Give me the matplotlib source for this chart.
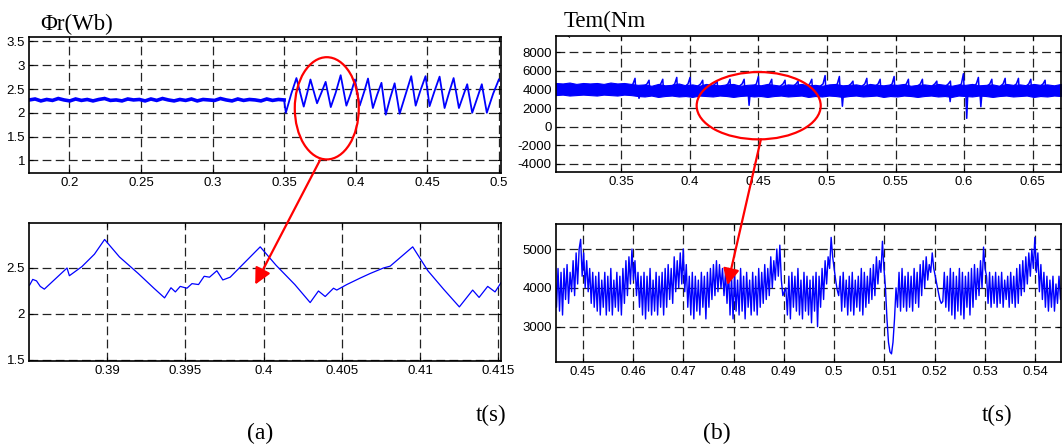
import numpy as np
import matplotlib
matplotlib.use("Agg")
import matplotlib.pyplot as plt
from matplotlib.patches import Ellipse, ConnectionPatch
from matplotlib.ticker import FuncFormatter

# ---------------- data ----------------
# (a) top: rotor flux, steady part 0.172-0.35 s
flux_flat_t0, flux_flat_t1 = 0.172, 0.350
flux_flat = [2.27, 2.29, 2.25, 2.28, 2.26, 2.30, 2.27, 2.25, 2.29, 2.26, 2.28, 2.25,
             2.28, 2.30, 2.26, 2.27, 2.25, 2.29, 2.27, 2.28, 2.25, 2.29, 2.26, 2.30,
             2.27, 2.25, 2.28, 2.26, 2.29, 2.25, 2.28, 2.27, 2.26, 2.30, 2.27, 2.25,
             2.29, 2.26, 2.28, 2.27, 2.25, 2.29, 2.26, 2.28, 2.27]
# (a) top: oscillating part after 0.35 s
flux_saw_t = [0.3500, 0.3512, 0.3550, 0.3586, 0.3637, 0.3660, 0.3684, 0.3730, 0.3760,
              0.3790, 0.3826, 0.3860, 0.3895, 0.3935, 0.3965, 0.3995, 0.4028, 0.4060,
              0.4086, 0.4120, 0.4150, 0.4180, 0.4210, 0.4240, 0.4272, 0.4307, 0.4350,
              0.4388, 0.4419, 0.4450, 0.4488, 0.4516, 0.4550, 0.4586, 0.4621, 0.4650,
              0.4684, 0.4721, 0.4750, 0.4779, 0.4814, 0.4850, 0.4881, 0.4916, 0.4960,
              0.5000]
flux_saw = [2.27, 2.00, 2.40, 2.73, 2.13, 2.40, 2.70, 2.20, 2.42, 2.65, 2.12, 2.42,
            2.79, 2.15, 2.40, 2.70, 2.15, 2.45, 2.72, 2.10, 2.38, 2.63, 1.96, 2.30,
            2.62, 1.98, 2.40, 2.77, 2.15, 2.45, 2.77, 2.14, 2.45, 2.76, 2.10, 2.40,
            2.73, 2.10, 2.35, 2.60, 2.00, 2.32, 2.60, 2.00, 2.40, 2.70]

# (a) bottom: zoom of rotor flux
fz_t = [0.38506, 0.38526, 0.38550, 0.38574, 0.38600, 0.38745, 0.38760, 0.38840,
        0.38920, 0.38985, 0.39080, 0.39200, 0.39300, 0.39368, 0.39409, 0.39437,
        0.39468, 0.39511, 0.39543, 0.39585, 0.39621, 0.39655, 0.39702, 0.39740,
        0.39787, 0.39880, 0.39979, 0.40080, 0.40200, 0.40298, 0.40351, 0.40394,
        0.40447, 0.40468, 0.40532, 0.40617, 0.40681, 0.40766, 0.40809, 0.40953,
        0.41050, 0.41150, 0.41251, 0.41336, 0.41377, 0.41432, 0.41479, 0.41517]
fz = [2.314, 2.376, 2.36, 2.30, 2.27, 2.50, 2.416, 2.515, 2.65, 2.81, 2.62, 2.44,
      2.28, 2.175, 2.285, 2.24, 2.30, 2.28, 2.33, 2.32, 2.41, 2.40, 2.47, 2.37,
      2.40, 2.56, 2.73, 2.53, 2.32, 2.124, 2.25, 2.19, 2.28, 2.26, 2.32, 2.39,
      2.44, 2.50, 2.52, 2.73, 2.47, 2.27, 2.077, 2.26, 2.18, 2.30, 2.24, 2.34]

# (b) top: electromagnetic torque, noise band envelope
tq_band_t0, tq_band_t1 = 0.3025, 0.6705
tq_upper = [4700, 4650, 4750, 4600, 4700, 4650, 4700, 4600, 4750, 4650, 4700, 4600,
            4500, 4550, 4400, 4600, 4450, 4500, 4650, 4450, 4550, 4400, 4600, 4500,
            4450, 4550, 4600, 4400, 4500, 4550, 4450, 4600, 4500, 4400, 4550, 4500,
            4600, 4450, 4500, 4400, 4550, 4600, 4450, 4500, 4550, 4400, 4600, 4500,
            4450, 4550, 4500, 4600, 4400, 4500, 4550, 4450, 4600, 4500, 4400, 4550,
            4500, 4600, 4450, 4500, 4550, 4400, 4600, 4500, 4550, 4450, 4600, 4500,
            4550, 4450, 4600]
tq_lower = [3400, 3450, 3350, 3400, 3450, 3400, 3350, 3450, 3400, 3350, 3450, 3400,
            3300, 3250, 3350, 3200, 3300, 3350, 3250, 3300, 3200, 3350, 3300, 3250,
            3350, 3300, 3200, 3300, 3350, 3250, 3300, 3200, 3300, 3350, 3250, 3300,
            3350, 3200, 3300, 3250, 3350, 3300, 3200, 3300, 3350, 3250, 3300, 3350,
            3200, 3300, 3250, 3350, 3300, 3200, 3300, 3350, 3250, 3300, 3200, 3350,
            3300, 3250, 3350, 3300, 3200, 3300, 3350, 3250, 3300, 3350, 3200, 3300,
            3250, 3350, 3300]
tq_spike_t = [0.3602, 0.3704, 0.3804, 0.3906, 0.4003, 0.4095, 0.4200, 0.4294, 0.4397,
              0.4501, 0.4598, 0.4695, 0.4790, 0.4890, 0.4987, 0.5091, 0.5190, 0.5291,
              0.5388, 0.5490, 0.5594, 0.5696, 0.5801, 0.5900, 0.5995, 0.6104, 0.6202,
              0.6299, 0.6396, 0.6486, 0.6590]
tq_spike = [5200, 5000, 5100, 5300, 5300, 5000, 4900, 5100, 5100, 5400, 5100, 5000,
            4900, 5100, 5500, 5400, 4900, 5200, 5100, 5400, 5100, 5100, 4900, 4900,
            5700, 5300, 5100, 5200, 5200, 5100, 5000]
tq_dip_t = [0.3631, 0.4433, 0.5113, 0.5898, 0.6019, 0.6122]
tq_dip = [3050, 2300, 2200, 2700, 900, 2150]

# (b) bottom: zoom of torque, sampled every 0.3 ms from 0.4445 s
tz_t0, tz_dt = 0.4445, 0.0003
tz = [4300, 3500, 4500, 3400, 4400, 3300, 4500, 3700, 4600, 3600, 4400, 3900, 4700, 3800,
      4900, 4100, 5000, 5250, 4300, 4900, 4000, 4700, 3900, 4500, 3600, 4400, 3500, 4300,
      3400, 4400, 3300, 4200, 3500, 4400, 3300, 4300, 3400, 4500, 3300, 4200, 3500, 4400,
      3400, 4300, 3300, 4500, 3600, 4700, 3800, 4800, 4100, 5000, 4200, 4700, 3800, 4400,
      3500, 4300, 3300, 4400, 3200, 4300, 3400, 4500, 3300, 4200, 3400, 4400, 3300, 4300,
      3500, 4400, 3300, 4500, 3500, 4600, 3700, 4500, 3600, 4800, 3900, 4700, 4000, 4900,
      4100, 5000, 3900, 4600, 3500, 4300, 3300, 4400, 3200, 4300, 3400, 4200, 3300, 4400,
      3500, 4300, 3200, 4400, 3500, 4500, 3700, 4600, 3800, 4700, 3900, 4600, 4000, 4500,
      3800, 4400, 3600, 4500, 3300, 4300, 3200, 4400, 3400, 4200, 3300, 4500, 3400, 4300,
      3200, 4400, 3500, 4200, 3300, 4400, 3400, 4300, 3300, 4500, 3500, 4400, 3600, 4600,
      3700, 4500, 3800, 4800, 4000, 4700, 4200, 5000, 4300, 5100, 4200, 3800, 3900, 4000,
      3300, 4300, 3200, 4400, 3500, 4300, 3400, 4500, 3300, 4200, 3200, 4400, 3400, 4300,
      3300, 4200, 3100, 4300, 3400, 4400, 3000, 4300, 3500, 4500, 3700, 4700, 4100, 4800,
      4500, 5300, 4800, 4500, 4200, 3950, 3800, 4300, 3400, 4400, 3500, 4200, 3300, 4300,
      3400, 4400, 3300, 4200, 3500, 4300, 3400, 4500, 3300, 4400, 3500, 4300, 3600, 4500,
      3700, 4600, 3800, 4800, 4100, 4700, 4400, 5200, 4500, 4000, 3200, 2600, 2350, 2300,
      2600, 3200, 4000, 3500, 4400, 3400, 4500, 3500, 4300, 3400, 4400, 3500, 4300, 3400,
      4500, 3600, 4400, 3500, 4600, 3800, 4700, 4000, 4800, 4200, 4600, 4400, 4900, 4500,
      4300, 4100, 3900, 3700, 3600, 3650, 4400, 3500, 4300, 3400, 4500, 3300, 4400, 3200,
      4300, 3400, 4500, 3300, 4400, 3200, 4300, 3500, 4400, 3300, 4500, 3500, 4600, 3700,
      4500, 3800, 4700, 4000, 5050, 4500, 4300, 3600, 4400, 3500, 4300, 3600, 4400, 3500,
      4300, 3600, 4400, 3500, 4200, 3700, 4300, 3500, 4400, 3600, 4300, 3500, 4500, 3600,
      4600, 3800, 4700, 3900, 4800, 4100, 4900, 4300, 5000, 4500, 5300, 4400, 4900, 3900,
      4600, 3700, 4400, 3500, 4300, 3400, 4200, 3500, 4300, 3400, 4100, 3600, 4300, 3700,
      4200, 3600, 4300]

# tick labels / axis settings
tl_xticks = [0.20, 0.25, 0.30, 0.35, 0.40, 0.45, 0.50]
tl_yticks = [1.0, 1.5, 2.0, 2.5, 3.0, 3.5]
tr_xticks = [0.35, 0.40, 0.45, 0.50, 0.55, 0.60, 0.65]
tr_yticks = [-4000, -2000, 0, 2000, 4000, 6000, 8000]
bl_xticks = [0.390, 0.395, 0.400, 0.405, 0.410, 0.415]
bl_yticks = [1.5, 2.0, 2.5]
br_xticks = [0.45, 0.46, 0.47, 0.48, 0.49, 0.50, 0.51, 0.52, 0.53, 0.54]
br_yticks = [3000, 4000, 5000]

# ---------------- figure ----------------
W, H = 1062, 446
fig = plt.figure(figsize=(W / 100, H / 100), dpi=100)
plt.rcParams['font.family'] = ['Liberation Sans', 'DejaVu Sans']

BLUE = '#0000ff'
RED = '#ff0000'


def box(l, t, r, b):
    return [l / W, 1 - b / H, (r - l) / W, (b - t) / H]


def style(ax, xt, yt, xl, yl):
    ax.set_xlim(*xl)
    ax.set_ylim(*yl)
    ax.set_xticks(xt)
    ax.set_yticks(yt)
    fmt = FuncFormatter(lambda v, p: '%g' % round(v, 6))
    ax.xaxis.set_major_formatter(fmt)
    ax.yaxis.set_major_formatter(fmt)
    ax.grid(True, color='#222222', linestyle=(0, (7, 3.5)), linewidth=0.9)
    ax.set_axisbelow(True)
    ax.tick_params(direction='in', length=3, width=0.8, labelsize=9.5, pad=3,
                   top=True, right=True)
    for s in ax.spines.values():
        s.set_linewidth(1.2)
        s.set_color('black')


ax_tl = fig.add_axes(box(29.3, 36.7, 501, 172.7))
ax_tr = fig.add_axes(box(556, 35.7, 1061, 172))
ax_bl = fig.add_axes(box(29.3, 223.3, 501, 360.7))
ax_br = fig.add_axes(box(556, 224.3, 1061, 361.7))

# top-left
t_flat = np.linspace(flux_flat_t0, flux_flat_t1, len(flux_flat))
ax_tl.plot(t_flat, flux_flat, color=BLUE, lw=2.6, solid_joinstyle='miter')
ax_tl.plot(flux_saw_t, flux_saw, color=BLUE, lw=1.3)
style(ax_tl, tl_xticks, tl_yticks, (0.172, 0.5015), (0.74, 3.6))

# top-right
t_band = np.linspace(tq_band_t0, tq_band_t1, len(tq_upper))
ax_tr.fill_between(t_band, tq_lower, tq_upper, color=BLUE, lw=0.8, edgecolor=BLUE)
sx, sy = [], []
for ts, pk in zip(tq_spike_t, tq_spike):
    sx += [ts - 0.004, ts - 0.0015, ts, ts + 0.0006, np.nan]
    sy += [4300, 4600, pk, 3800, np.nan]
for td, dp in zip(tq_dip_t, tq_dip):
    sx += [td - 0.0006, td, td + 0.0008, np.nan]
    sy += [3500, dp, 3600, np.nan]
ax_tr.plot(sx, sy, color=BLUE, lw=1.1)
style(ax_tr, tr_xticks, tr_yticks, (0.3026, 0.6706), (-4870, 9785))

# bottom-left
ax_bl.plot(fz_t, fz, color=BLUE, lw=0.9)
style(ax_bl, bl_xticks, bl_yticks, (0.38504, 0.41517), (1.492, 2.986))

# bottom-right
t_z = tz_t0 + tz_dt * np.arange(len(tz))
ax_br.plot(t_z, tz, color=BLUE, lw=1.0)
style(ax_br, br_xticks, br_yticks, (0.4447, 0.5451), (2098, 5637))

# red ellipses
ax_tl.add_patch(Ellipse((0.3798, 2.094), 0.0447, 2.15, fill=False,
                        edgecolor=RED, lw=1.6, zorder=5))
ax_tr.add_patch(Ellipse((0.4503, 2258), 0.0904, 7237, fill=False,
                        edgecolor=RED, lw=1.6, zorder=5))

# red arrows
for a0, p0, a1, p1 in [(ax_tl, (0.3750, 1.0), ax_bl, (0.39947, 2.32)),
                       (ax_tr, (0.4519, -1355), ax_br, (0.4788, 4072))]:
    cp = ConnectionPatch(xyA=p0, coordsA=a0.transData, xyB=p1, coordsB=a1.transData,
                         arrowstyle='-|>,head_length=0.7,head_width=0.35',
                         mutation_scale=14, color=RED, lw=1.6, zorder=10)
    fig.add_artist(cp)

# texts
serif = ['Liberation Serif', 'DejaVu Serif']


def ftext(x, y, s, size, ha='left'):
    fig.text(x / W, 1 - y / H, s, fontsize=size, family=serif, ha=ha, va='baseline')


ftext(40, 30, 'Φr(Wb)', 16.5)
ftext(564, 27, 'Tem(Nm', 16.5)
ftext(260, 439, '(a)', 17, ha='center')
ftext(491, 421, 't(s)', 16.5, ha='center')
ftext(717, 439, '(b)', 17, ha='center')
ftext(997, 421, 't(s)', 16.5, ha='center')
fig.text(566 / W, 1 - 46 / H, '`', fontsize=9, ha='left', va='baseline')

fig.savefig('out.png', dpi=100)
